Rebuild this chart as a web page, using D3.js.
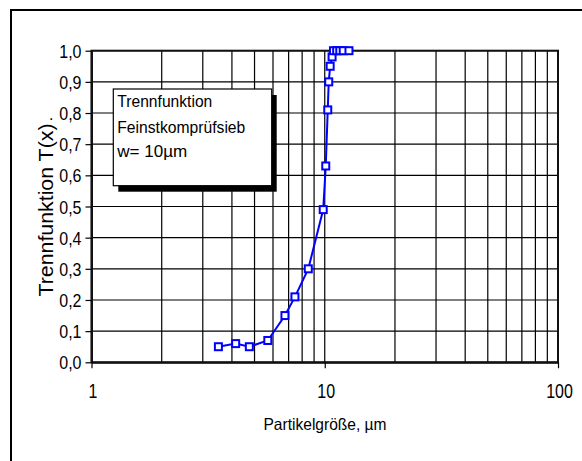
<!DOCTYPE html>
<html>
<head>
<meta charset="utf-8">
<script src="https://cdn.jsdelivr.net/npm/d3@7"></script>
<style>
  html, body { margin: 0; padding: 0; background: #fff; }
  svg { display: block; font-family: "Liberation Sans", Arial, sans-serif; }
</style>
</head>
<body>
<svg id="chart" width="582" height="461"></svg>
<script>
// ---- data ----
const particleSize = [3.5, 4.15, 4.75, 5.7, 6.75, 7.45, 8.5, 9.85, 10.1, 10.3, 10.4, 10.55, 10.75, 10.9, 11.25, 11.6, 12.0, 12.7];
const trennValue   = [0.05, 0.06, 0.05, 0.07, 0.15, 0.21, 0.30, 0.49, 0.63, 0.81, 0.90, 0.95, 0.98, 1.0, 1.0, 1.0, 1.0, 1.0];
const yTickValues  = [0, 0.1, 0.2, 0.3, 0.4, 0.5, 0.6, 0.7, 0.8, 0.9, 1.0];
const xTickValues  = [1, 10, 100];
const legendLines  = ["Trennfunktion", "Feinstkomprüfsieb", "w= 10µm"];
const xTitle = "Partikelgröße, µm";
const yTitle = "Trennfunktion T(x)";

(function () {
const svg = d3.select("#chart");

// outer frame (only top/left visible)
svg.append("rect").attr("x", 11).attr("y", 10).attr("width", 600).attr("height", 500)
  .attr("fill", "#fff").attr("stroke", "#000").attr("stroke-width", 2);

const pLeft = 91.5, pRight = 558, pTop = 50.7, pBottom = 362.3;
const x = d3.scaleLog().domain([1, 100]).range([pLeft, pRight]);
const y = d3.scaleLinear().domain([0, 1]).range([pBottom, pTop]);

// grid
const grid = svg.append("g");
grid.selectAll("line.v").data(x.ticks()).enter().append("line")
  .attr("x1", d => x(d)).attr("x2", d => x(d)).attr("y1", pTop).attr("y2", pBottom)
  .attr("stroke", "#000").attr("stroke-width", 1.2);
grid.selectAll("line.h").data(yTickValues).enter().append("line")
  .attr("x1", pLeft).attr("x2", pRight).attr("y1", d => y(d)).attr("y2", d => y(d))
  .attr("stroke", "#000").attr("stroke-width", 1.2);

// plot frame
svg.append("rect").attr("x", pLeft).attr("y", pTop).attr("width", pRight - pLeft).attr("height", pBottom - pTop)
  .attr("fill", "none").attr("stroke", "#111").attr("stroke-width", 2);

// y axis
const yAxis = svg.append("g").attr("transform", `translate(${pLeft},0)`)
  .call(d3.axisLeft(y).tickValues(yTickValues).tickSize(6).tickSizeOuter(0)
    .tickFormat(d => d.toFixed(1).replace(".", ",")));
yAxis.select(".domain").attr("stroke", "#111").attr("stroke-width", 2);
yAxis.selectAll(".tick line").attr("stroke", "#000").attr("stroke-width", 1.2);
yAxis.selectAll(".tick text")
  .attr("x", null).attr("dy", null)
  .attr("font-size", 16).attr("fill", "#000").attr("text-anchor", "end")
  .attr("font-family", "'Liberation Sans', Arial, sans-serif")
  .attr("transform", "translate(-10,6.5) scale(1,1.1)");

// x axis
const xAxis = svg.append("g").attr("transform", `translate(0,${pBottom})`)
  .call(d3.axisBottom(x).tickValues(xTickValues).tickSize(6).tickSizeOuter(0)
    .tickFormat(d3.format("d")));
xAxis.select(".domain").attr("stroke", "#111").attr("stroke-width", 2);
xAxis.selectAll(".tick line").attr("stroke", "#000").attr("stroke-width", 1.2);
xAxis.selectAll(".tick text")
  .attr("y", null).attr("dy", null)
  .attr("font-size", 16).attr("fill", "#000").attr("text-anchor", "middle")
  .attr("font-family", "'Liberation Sans', Arial, sans-serif")
  .attr("transform", "translate(1,35.4) scale(1,1.22)");

// series line
const line = d3.line().x((d, i) => x(particleSize[i])).y(d => y(d));
svg.append("path").datum(trennValue).attr("d", line)
  .attr("fill", "none").attr("stroke", "#0000ff").attr("stroke-width", 2);

// markers
svg.selectAll("rect.m").data(trennValue).enter().append("rect")
  .attr("x", (d, i) => x(particleSize[i]) - 3.5)
  .attr("y", d => y(d) - 3.5)
  .attr("width", 7).attr("height", 7)
  .attr("fill", "#fff").attr("stroke", "#0000ff").attr("stroke-width", 2);

// text box with shadow
svg.append("rect").attr("x", 118.3).attr("y", 95).attr("width", 158.4).attr("height", 96.7).attr("fill", "#000");
svg.append("rect").attr("x", 113.3).attr("y", 89).attr("width", 158.4).attr("height", 96.7)
  .attr("fill", "#fff").attr("stroke", "#000").attr("stroke-width", 1.2);
const legendWidths = [95, 128, 70];
const legendBase = [107.3, 132.7, 157.3];
svg.selectAll("text.lg").data(legendLines).enter().append("text")
  .attr("x", 117.3).attr("y", (d, i) => legendBase[i])
  .attr("font-size", 17).attr("fill", "#000")
  .attr("textLength", (d, i) => legendWidths[i]).attr("lengthAdjust", "spacingAndGlyphs")
  .text(d => d);

// axis titles
svg.append("text").attr("x", 325).attr("y", 430).attr("text-anchor", "middle")
  .attr("font-size", 16.5).attr("textLength", 123).attr("lengthAdjust", "spacingAndGlyphs")
  .attr("fill", "#000").text(xTitle);
svg.append("text").attr("transform", "translate(53,210) rotate(-90)").attr("text-anchor", "middle")
  .attr("font-size", 20).attr("textLength", 173).attr("lengthAdjust", "spacingAndGlyphs")
  .attr("fill", "#000").text(yTitle);
svg.append("text").attr("x", 49).attr("y", 120).attr("font-size", 16).attr("fill", "#000").text(".");
})();
</script>
</body>
</html>
